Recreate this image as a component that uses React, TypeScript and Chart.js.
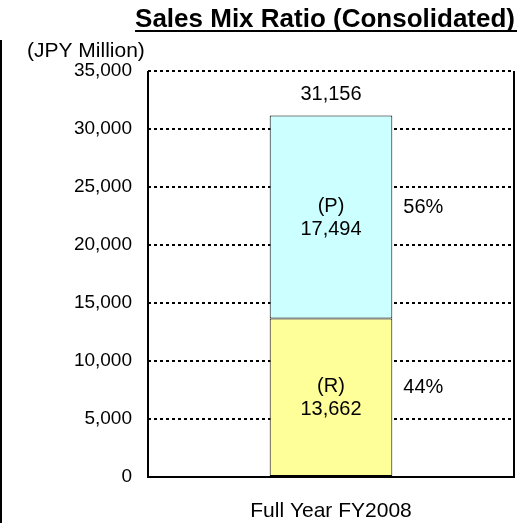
import React, { useEffect, useRef } from 'react';
import { Chart, registerables } from 'chart.js';

Chart.register(...registerables);

const categories: string[] = ['Full Year FY2008'];
const seriesLabels: string[] = ['(R)', '(P)'];
const rValues: number[] = [13662];
const pValues: number[] = [17494];
const yTickMin = 0;
const yTickMax = 35000;
const yTickStep = 5000;
const titleText = 'Sales Mix Ratio (Consolidated)';
const unitText = '(JPY Million)';

const FONT = "'Liberation Sans', Arial, sans-serif";
const fmt = (v: number) => v.toLocaleString('en-US');

const decorPlugin = {
  id: 'decor',
  afterDraw(chart: any) {
    const ctx = chart.ctx as CanvasRenderingContext2D;
    const area = chart.chartArea;
    ctx.save();
    // plot area solid borders (left, right, bottom)
    ctx.fillStyle = '#000';
    ctx.fillRect(area.left - 1, area.top, 2, area.bottom - area.top + 1);
    ctx.fillRect(area.right - 1, area.top, 2, area.bottom - area.top + 1);
    ctx.fillRect(area.left - 1, area.bottom - 1, area.right - area.left + 2, 2);

    // left edge cropped line
    ctx.fillRect(0, 40, 2, 483);

    // title
    ctx.fillStyle = '#000';
    ctx.font = `bold 26px ${FONT}`;
    ctx.textAlign = 'right';
    ctx.textBaseline = 'alphabetic';
    const tw = ctx.measureText(titleText).width;
    ctx.fillText(titleText, 515, 27);
    ctx.fillRect(515 - tw, 30, tw + 2, 2);

    // unit
    ctx.font = `21px ${FONT}`;
    ctx.textAlign = 'left';
    ctx.fillText(unitText, 27, 57);

    // data labels
    const metaR = chart.getDatasetMeta(0);
    const metaP = chart.getDatasetMeta(1);
    const total = rValues[0] + pValues[0];
    const segs = [
      { el: metaR.data[0], name: seriesLabels[0], v: rValues[0] },
      { el: metaP.data[0], name: seriesLabels[1], v: pValues[0] },
    ];
    ctx.font = `20px ${FONT}`;
    ctx.textBaseline = 'middle';
    segs.forEach((s) => {
      const el = s.el;
      const cy = (el.y + el.base) / 2;
      ctx.textAlign = 'center';
      ctx.fillText(s.name, el.x, cy - 11);
      ctx.fillText(fmt(s.v), el.x, cy + 12);
      const pct = Math.round((s.v / total) * 100) + '%';
      ctx.textAlign = 'left';
      ctx.fillText(pct, el.x + el.width / 2 + 11, cy - 10);
    });
    const top = metaP.data[0];
    ctx.textAlign = 'center';
    ctx.textBaseline = 'alphabetic';
    ctx.fillText(fmt(total), top.x, top.y - 16);
    ctx.restore();
  },
};

export default function App() {
  const ref = useRef<HTMLCanvasElement>(null);
  useEffect(() => {
    if (!ref.current) return;
    const chart = new Chart(ref.current, {
      type: 'bar',
      data: {
        labels: categories,
        datasets: [
          {
            label: seriesLabels[0],
            data: rValues,
            backgroundColor: '#FFFF99',
            borderColor: '#000',
            borderWidth: 1,
            borderSkipped: false,
          },
          {
            label: seriesLabels[1],
            data: pValues,
            backgroundColor: '#CCFFFF',
            borderColor: '#000',
            borderWidth: 1,
            borderSkipped: false,
          },
        ],
      },
      options: {
        responsive: false,
        animation: false,
        layout: { padding: { top: 71, right: 16, bottom: 0, left: 0 } },
        plugins: {
          legend: { display: false },
          title: { display: false },
          tooltip: { enabled: false },
        },
        datasets: { bar: { categoryPercentage: 1, barPercentage: 0.335 } },
        scales: {
          x: {
            stacked: true,
            grid: { display: false, drawTicks: false },
            border: { display: false },
            ticks: { color: '#000', font: { family: FONT, size: 21 }, padding: 22 },
            afterFit: (s: any) => { s.height = 46; },
          },
          y: {
            stacked: true,
            min: yTickMin,
            max: yTickMax,
            grid: { color: '#000', lineWidth: 2, drawTicks: false },
            border: { display: false, dash: [3, 3] },
            ticks: {
              stepSize: yTickStep,
              color: '#000',
              font: { family: FONT, size: 19 },
              padding: 16,
              callback: (v: any) => fmt(Number(v)),
            },
            afterFit: (s: any) => { s.width = 148; },
          },
        },
      },
      plugins: [decorPlugin],
    });
    return () => chart.destroy();
  }, []);
  return (
    <div style={{ position: 'absolute', left: 0, top: 0, width: 530, height: 523, background: '#fff' }}>
      <canvas ref={ref} width={530} height={523} style={{ display: 'block' }} />
    </div>
  );
}
